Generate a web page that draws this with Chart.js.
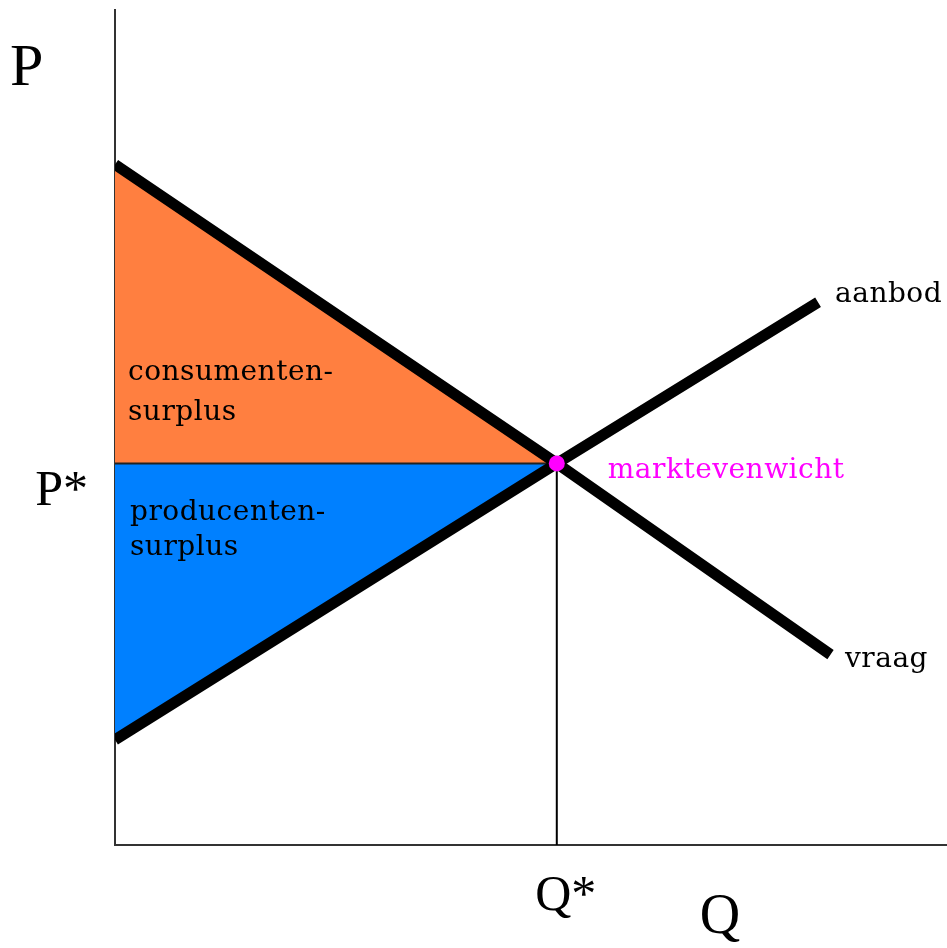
<!DOCTYPE html>
<html>
<head>
<meta charset="utf-8">
<script src="https://cdn.jsdelivr.net/npm/chart.js@4"></script>
<style>
  html, body { margin: 0; padding: 0; background: #fff; overflow: hidden; }
  #wrap { width: 947px; height: 948px; }
  canvas { display: block; }
</style>
</head>
<body>
<div id="wrap"><canvas id="chart" width="947" height="948"></canvas></div>
<script>
// Market values (Q on x, P on y, both 0..100)
const qStar = 53.1;
const pStar = 45.7;
const demandQ = [0, 53.1, 86];
const demandP = [81.5, 45.7, 22.8];
const supplyQ = [0, 53.1, 84.5];
const supplyP = [12.6, 45.7, 65];

// Labels
const axisLabels = ['P', 'Q'];
const starLabels = ['P*', 'Q*'];
const curveLabels = ['vraag', 'aanbod'];
const equilibriumLabel = 'marktevenwicht';
const consumerLabel = ['consumenten-', 'surplus'];
const producerLabel = ['producenten-', 'surplus'];

const pts = (xs, ys) => xs.map((x, i) => ({ x: x, y: ys[i] }));

const labelPlugin = {
  id: 'labels',
  afterDraw(chart) {
    const ctx = chart.ctx;
    const xs = chart.scales.x, ys = chart.scales.y;
    const X = v => xs.getPixelForValue(v);
    const Y = v => ys.getPixelForValue(v);
    ctx.save();
    ctx.fillStyle = '#000';
    ctx.textBaseline = 'alphabetic';

    // axis names
    ctx.font = '60px "Liberation Serif"';
    ctx.textAlign = 'left';
    ctx.fillText(axisLabels[0], 10, 85);
    ctx.font = '56px "Liberation Serif"';
    ctx.textAlign = 'center';
    ctx.fillText(axisLabels[1], 720, 933);

    // P* and Q*
    ctx.font = '50px "Liberation Serif"';
    ctx.textAlign = 'right';
    ctx.fillText(starLabels[0], X(0) - 27, Y(pStar) + 42);
    ctx.textAlign = 'center';
    ctx.fillText(starLabels[1], X(qStar) + 9, 910);

    // text in the plot
    ctx.font = '28px "DejaVu Serif"';
    ctx.letterSpacing = '0.5px';
    ctx.textAlign = 'left';
    ctx.fillText(consumerLabel[0], X(0) + 13, 380);
    ctx.fillText(consumerLabel[1], X(0) + 13, 420);
    ctx.fillText(producerLabel[0], X(0) + 15, 520);
    ctx.fillText(producerLabel[1], X(0) + 15, 555);
    ctx.fillText(curveLabels[1], 835, 302);
    ctx.fillText(curveLabels[0], 845, 667);
    ctx.fillStyle = '#ff00ff';
    ctx.fillText(equilibriumLabel, X(qStar) + 51, Y(pStar) + 15);
    ctx.restore();
  }
};

new Chart(document.getElementById('chart').getContext('2d'), {
  type: 'scatter',
  data: {
    datasets: [
      {
        label: 'evenwicht',
        data: [{ x: qStar, y: pStar }],
        pointRadius: 8,
        pointBackgroundColor: '#ff00ff',
        pointBorderWidth: 0,
        order: 0
      },
      {
        label: 'vraag',
        data: pts(demandQ, demandP),
        showLine: true,
        borderColor: '#000',
        borderWidth: 11,
        borderCapStyle: 'butt',
        pointRadius: 0,
        fill: false,
        order: 1
      },
      {
        label: 'aanbod',
        data: pts(supplyQ, supplyP),
        showLine: true,
        borderColor: '#000',
        borderWidth: 11,
        borderCapStyle: 'butt',
        pointRadius: 0,
        fill: false,
        order: 1
      },
      {
        label: 'Q*',
        data: [{ x: qStar, y: pStar }, { x: qStar, y: 0 }],
        showLine: true,
        borderColor: '#000',
        borderWidth: 2,
        pointRadius: 0,
        order: 2
      },
      {
        label: 'P*',
        data: [{ x: 0, y: pStar }, { x: qStar, y: pStar }],
        showLine: true,
        borderColor: '#222',
        borderWidth: 2,
        pointRadius: 0,
        order: 2
      },
      {
        label: 'consumentensurplus',
        data: pts(demandQ.slice(0, 2), demandP.slice(0, 2)),
        showLine: true,
        borderWidth: 0,
        pointRadius: 0,
        backgroundColor: '#ff7f40',
        fill: { value: pStar },
        order: 3
      },
      {
        label: 'producentensurplus',
        data: pts(supplyQ.slice(0, 2), supplyP.slice(0, 2)),
        showLine: true,
        borderWidth: 0,
        pointRadius: 0,
        backgroundColor: '#0080ff',
        fill: { value: pStar },
        order: 3
      }
    ]
  },
  options: {
    responsive: false,
    animation: false,
    layout: { autoPadding: false, padding: { top: 10, right: 0, left: 0, bottom: 0 } },
    plugins: {
      legend: { display: false },
      tooltip: { enabled: false }
    },
    scales: {
      x: {
        type: 'linear',
        min: 0,
        max: 100,
        grid: { display: false },
        ticks: { display: false },
        border: { display: true, color: '#333', width: 2 },
        afterFit(scale) {
          scale.height = 103;
          scale.paddingLeft = 0;
          scale.paddingRight = 0;
        }
      },
      y: {
        type: 'linear',
        min: 0,
        max: 100,
        grid: { display: false },
        ticks: { display: false },
        border: { display: true, color: '#333', width: 2 },
        afterFit(scale) {
          scale.width = 115;
          scale.paddingTop = 0;
          scale.paddingBottom = 0;
        }
      }
    }
  },
  plugins: [labelPlugin]
});
</script>
</body>
</html>
